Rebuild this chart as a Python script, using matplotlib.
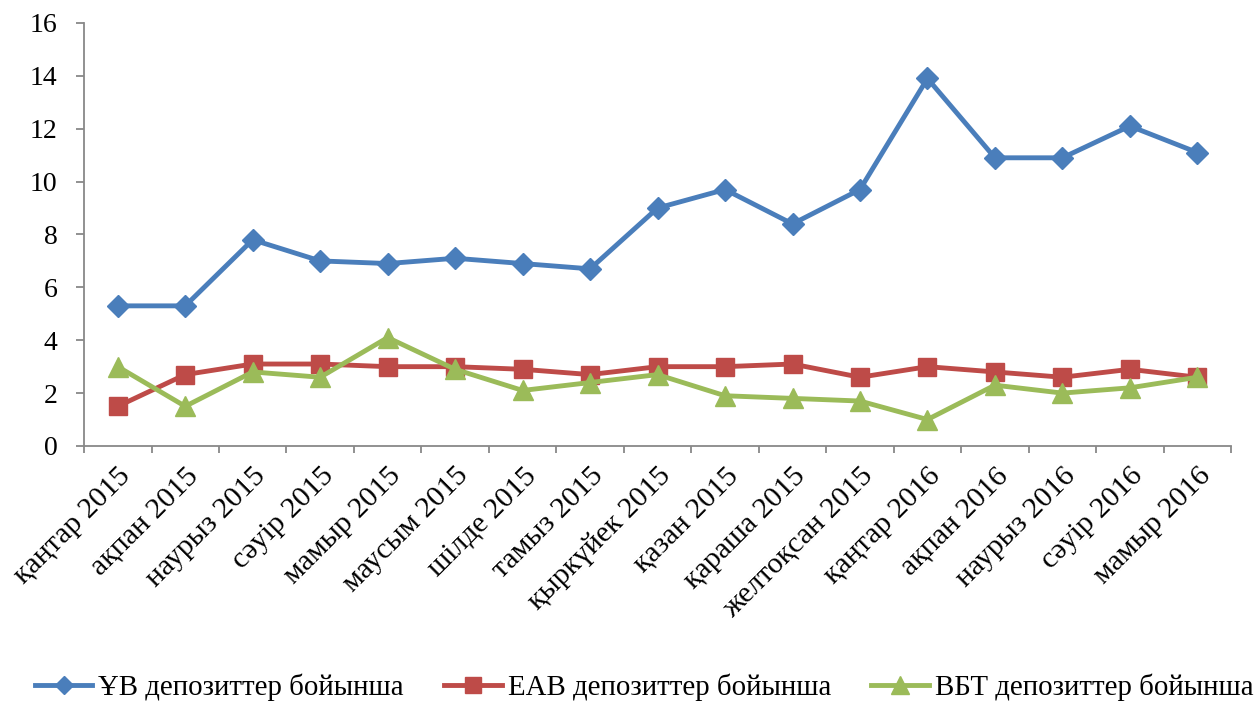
import matplotlib.pyplot as plt
import numpy as np

months = ['қаңтар 2015', 'ақпан 2015', 'наурыз 2015', 'сәуір 2015', 'мамыр 2015',
          'маусым 2015', 'шілде 2015', 'тамыз 2015', 'қыркүйек 2015', 'қазан 2015',
          'қараша 2015', 'желтоқсан 2015', 'қаңтар 2016', 'ақпан 2016', 'наурыз 2016',
          'сәуір 2016', 'мамыр 2016']
uv = [5.3, 5.3, 7.8, 7.0, 6.9, 7.1, 6.9, 6.7, 9.0, 9.7, 8.4, 9.7, 13.9, 10.9, 10.9, 12.1, 11.1]
eav = [1.5, 2.7, 3.1, 3.1, 3.0, 3.0, 2.9, 2.7, 3.0, 3.0, 3.1, 2.6, 3.0, 2.8, 2.6, 2.9, 2.6]
vbt = [3.0, 1.5, 2.8, 2.6, 4.1, 2.9, 2.1, 2.4, 2.7, 1.9, 1.8, 1.7, 1.0, 2.3, 2.0, 2.2, 2.6]

plt.rcParams['font.family'] = ['Liberation Serif', 'DejaVu Serif']

fig = plt.figure(figsize=(12.58, 7.02), dpi=100)
ax = fig.add_axes([0.0668, 0.3647, 0.9118, 0.6026])
x = np.arange(len(months))

ax.plot(x, uv, color='#4a7ebb', linewidth=3.5, marker='D', markersize=11, label='ҰВ депозиттер бойынша')
ax.plot(x, eav, color='#be4b48', linewidth=3.5, marker='s', markersize=13.5, label='ЕАВ депозиттер бойынша')
ax.plot(x, vbt, color='#9bbb59', linewidth=3.5, marker='^', markersize=14.5, label='ВБТ депозиттер бойынша')

ax.set_xlim(-0.5, len(months) - 0.5)
ax.set_ylim(0, 16)
ax.set_yticks(range(0, 17, 2))
ax.tick_params(axis='y', labelsize=20, color='#888888', length=6, width=1.3, pad=13, direction='out')
ax.set_xticks(x)
ax.set_xticklabels(months, rotation=45, ha='right', rotation_mode='anchor', fontsize=21.5)
ax.tick_params(axis='x', which='major', length=0, pad=12)
ax.set_xticks(np.arange(-0.5, len(months)), minor=True)
ax.tick_params(axis='x', which='minor', length=5, width=1.3, color='#888888')
for s in ['top', 'right']:
    ax.spines[s].set_visible(False)
for s in ['left', 'bottom']:
    ax.spines[s].set_color('#888888')
    ax.spines[s].set_linewidth(1.3)

fig.legend(loc='center', bbox_to_anchor=(0.512, 0.021), ncol=3, frameon=False, fontsize=20.8,
           handlelength=2, handletextpad=0.2, columnspacing=1.4, markerscale=0.85)

plt.savefig('out.png', dpi=100)
